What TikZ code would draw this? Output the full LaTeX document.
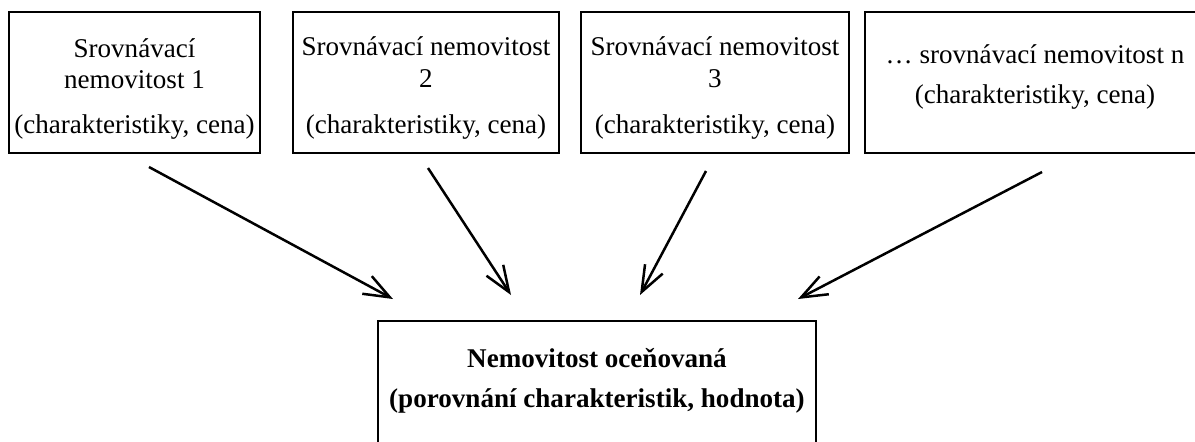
\documentclass[tikz,border=0pt]{standalone}
\usepackage{fontspec}
\setmainfont{Liberation Serif}
\usetikzlibrary{arrows.meta,fit}
\begin{document}
\begin{tikzpicture}[x=0.48pt,y=-0.48pt,
  box/.style={draw, line width=1.4pt, inner sep=0pt},
  txt/.style={anchor=base, inner sep=0pt, font=\fontsize{13}{15}\selectfont},
  btxt/.style={txt, font=\fontsize{13}{15}\selectfont\bfseries},
  flow/.style={line width=1.2pt, -{Straight Barb[length=12.5pt,width=9.6pt,line width=1.2pt]}}]
\useasboundingbox (0,0) rectangle (1195,441);
\clip (0,0) rectangle (1195,441);

% comparison properties
\node[box, fit={(9,12) (260,153)}] (b1) {};
\node[box, fit={(293,12) (559,153)}] (b2) {};
\node[box, fit={(581,12) (849,153)}] (b3) {};
\node[box, fit={(865,12) (1205,153)}] (b4) {};

\node[txt] (b1l1) at (134.5,57) {Srovnávací};
\node[txt] (b1l2) at (134.5,88) {nemovitost 1};
\node[txt] (b1l3) at (134.5,133) {(charakteristiky, cena)};

\node[txt] (b2l1) at (426,55) {Srovnávací nemovitost};
\node[txt] (b2l2) at (426,87) {2};
\node[txt] (b2l3) at (426,133) {(charakteristiky, cena)};

\node[txt] (b3l1) at (715,55) {Srovnávací nemovitost};
\node[txt] (b3l2) at (715,87) {3};
\node[txt] (b3l3) at (715,133) {(charakteristiky, cena)};

\node[txt] (b4l1) at (1035,63) {… srovnávací nemovitost n};
\node[txt] (b4l2) at (1035,103) {(charakteristiky, cena)};

% valued property
\node[box, fit={(378,321) (816,470)}] (v) {};
\node[btxt] (vl1) at (597,367) {Nemovitost oceňovaná};
\node[btxt] (vl2) at (597,407) {(porovnání charakteristik, hodnota)};

% arrow end points
\coordinate (s1) at (149,167);  \coordinate (t1) at (393,299);
\coordinate (s2) at (428,168);  \coordinate (t2) at (511,295);
\coordinate (s3) at (706,171);  \coordinate (t3) at (640,295);
\coordinate (s4) at (1042,172); \coordinate (t4) at (798,299);

\draw[flow] (s1) -- (t1);
\draw[flow] (s2) -- (t2);
\draw[flow] (s3) -- (t3);
\draw[flow] (s4) -- (t4);
\end{tikzpicture}
\end{document}
